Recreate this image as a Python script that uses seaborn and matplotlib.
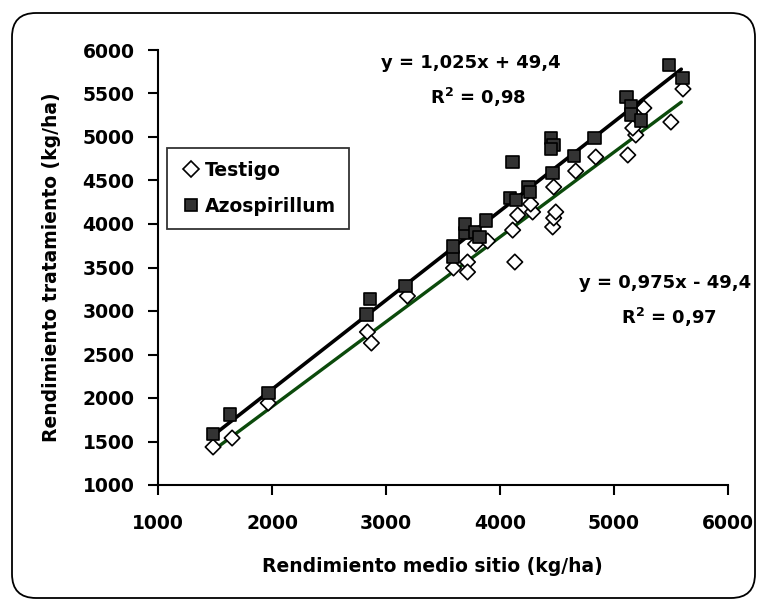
import numpy as np
import pandas as pd
import matplotlib
matplotlib.use("Agg")
import matplotlib.pyplot as plt
from matplotlib.patches import FancyBboxPatch
import seaborn as sns

# ---- data ----
testigo_x = [1483, 1650, 1967, 2837, 2872, 3188, 3592, 3715, 3715, 3786, 3891, 4111,
             4130, 4155, 4286, 4269, 4462, 4471, 4489, 4471, 4664, 4840, 5121, 5191,
             5165, 5262, 5499, 5605]
testigo_y = [1437, 1540, 1943, 2759, 2632, 3172, 3494, 3563, 3448, 3770, 3805, 3930,
             3563, 4103, 4138, 4230, 3966, 4069, 4138, 4425, 4609, 4770, 4793, 5023,
             5103, 5333, 5172, 5552]
azo_x = [1480, 1630, 1970, 2830, 2860, 3170, 3590, 3590, 3690, 3690, 3780, 3820,
         3880, 4090, 4140, 4250, 4260, 4110, 4460, 4450, 4470, 4450, 4650, 4830,
         5110, 5150, 5150, 5240, 5480, 5600]
azo_y = [1590, 1810, 2060, 2960, 3140, 3290, 3620, 3740, 3900, 4000, 3910, 3850,
         4040, 4300, 4280, 4420, 4370, 4710, 4590, 4990, 4910, 4860, 4780, 4990,
         5460, 5350, 5260, 5190, 5830, 5680]
series_names = ["Testigo", "Azospirillum"]
fit_azo = (1.025, 49.4)
fit_testigo = (0.975, -49.4)
fit_range = (1500, 5590)
eq_azo = ["y = 1,025x + 49,4", "R$^{\\mathbf{2}}$ = 0,98"]
eq_testigo = ["y = 0,975x - 49,4", "R$^{\\mathbf{2}}$ = 0,97"]
xlabel = "Rendimiento medio sitio (kg/ha)"
ylabel = "Rendimiento tratamiento (kg/ha)"
ticks = [1000, 1500, 2000, 2500, 3000, 3500, 4000, 4500, 5000, 5500, 6000]
xticks = [1000, 2000, 3000, 4000, 5000, 6000]

df = pd.DataFrame({
    "x": testigo_x + azo_x,
    "y": testigo_y + azo_y,
    "serie": [series_names[0]] * len(testigo_x) + [series_names[1]] * len(azo_x),
})

sns.set_style("white")
plt.rcParams["font.family"] = ["DejaVu Sans"]
plt.rcParams["font.weight"] = "bold"
plt.rcParams["text.color"] = "black"
plt.rcParams["axes.labelcolor"] = "black"
plt.rcParams["xtick.color"] = "black"
plt.rcParams["ytick.color"] = "black"
plt.rcParams["mathtext.fontset"] = "custom"
plt.rcParams["mathtext.rm"] = "DejaVu Sans:bold"
plt.rcParams["mathtext.bf"] = "DejaVu Sans:bold"

FS = 13.5
FS_EQ = 13

fig = plt.figure(figsize=(7.57, 6.01), dpi=100)
ax = fig.add_axes([158 / 757, 1 - 485 / 601, (728 - 158) / 757, (485 - 50) / 601])

# fit lines
xs = np.array(fit_range, dtype=float)
ax.plot(xs, fit_testigo[0] * xs + fit_testigo[1], color="#0b4a0b", lw=2.4, zorder=2)
ax.plot(xs, fit_azo[0] * xs + fit_azo[1], color="black", lw=2.6, zorder=2)

sns.scatterplot(data=df, x="x", y="y", hue="serie", style="serie", size="serie",
                hue_order=series_names, style_order=series_names, size_order=series_names,
                palette={series_names[0]: "white", series_names[1]: "#333333"},
                markers={series_names[0]: "D", series_names[1]: "s"},
                sizes={series_names[0]: 62, series_names[1]: 78},
                edgecolor="black", linewidth=1.2,
                ax=ax, zorder=3, legend=True)

ax.set_xlim(1000, 6000)
ax.set_ylim(1000, 6000)
ax.set_xticks(xticks)
ax.set_yticks(ticks)
ax.tick_params(axis="both", which="both", direction="out", length=7, width=1.5,
               labelsize=FS, color="black", labelcolor="black", left=True, bottom=True)
ax.tick_params(axis="y", pad=10)
ax.tick_params(axis="x", pad=14)
for lab in ax.get_xticklabels() + ax.get_yticklabels():
    lab.set_fontweight("bold")
ax.set_xlabel(xlabel, fontsize=FS, fontweight="bold", color="black")
ax.set_ylabel(ylabel, fontsize=FS, fontweight="bold", color="black")
ax.xaxis.set_label_coords(0.482, -0.165)
ax.yaxis.set_label_coords(-0.17, 0.5)
for s in ["top", "right"]:
    ax.spines[s].set_visible(False)
for s in ["left", "bottom"]:
    ax.spines[s].set_color("black")
    ax.spines[s].set_linewidth(1.5)

handles, labels = ax.get_legend_handles_labels()
leg = ax.legend(handles=handles, labels=labels, loc="upper left",
                bbox_to_anchor=(0.016, 0.775), borderaxespad=0,
                frameon=True, fancybox=False, edgecolor="black",
                prop={"weight": "bold", "size": FS}, handletextpad=0.2,
                borderpad=0.7, labelspacing=0.9, handlelength=1.1,
                markerscale=1.0)
leg.get_frame().set_linewidth(1.3)
for t in leg.get_texts():
    t.set_color("black")

ax.text(3742, 5851, eq_azo[0], ha="center", va="center", fontsize=FS_EQ, fontweight="bold")
ax.text(3812, 5460, eq_azo[1], ha="center", va="center", fontsize=FS_EQ, fontweight="bold")
ax.text(5445, 3322, eq_testigo[0], ha="center", va="center", fontsize=FS_EQ,
        fontweight="bold", clip_on=False)
ax.text(5482, 2931, eq_testigo[1], ha="center", va="center", fontsize=FS_EQ,
        fontweight="bold", clip_on=False)

border = FancyBboxPatch((12, 3), 743, 585, boxstyle="round,pad=0,rounding_size=24",
                        transform=None, fill=False, edgecolor="black", linewidth=1.3)
fig.patches.append(border)

fig.savefig("out.png", dpi=100)
